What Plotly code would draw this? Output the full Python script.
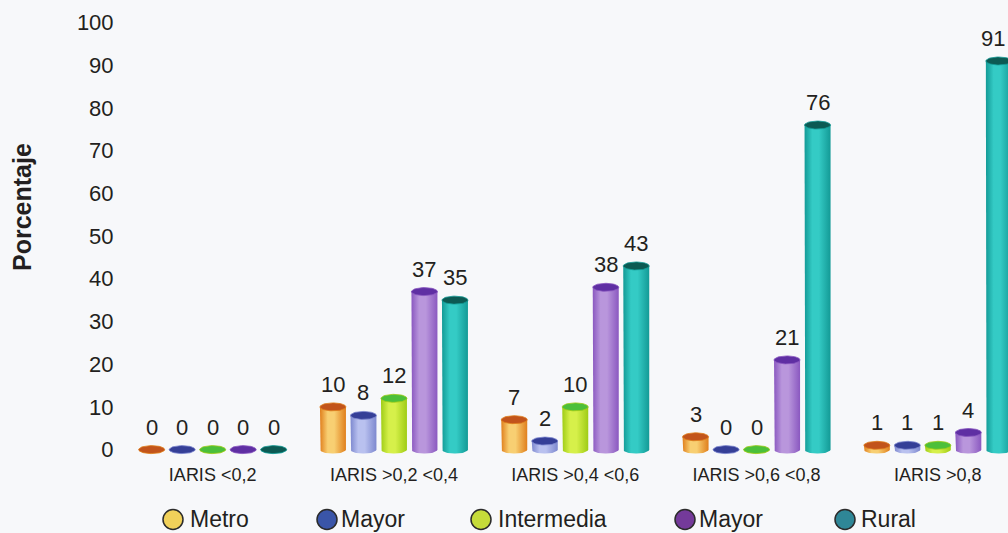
import numpy as np
import plotly.graph_objects as go

# ---- data -------------------------------------------------------------
categories = ["IARIS <0,2", "IARIS >0,2 <0,4", "IARIS >0,4 <0,6",
              "IARIS >0,6 <0,8", "IARIS >0,8"]
series_names = ["Metro", "Mayor", "Intermedia", "Mayor", "Rural"]
metro = [0, 10, 7, 3, 1]
mayor = [0, 8, 2, 0, 1]
intermedia = [0, 12, 10, 0, 1]
mayor_b = [0, 37, 38, 21, 4]
rural = [0, 35, 43, 76, 91]
y_ticks = [0, 10, 20, 30, 40, 50, 60, 70, 80, 90, 100]
y_title = "Porcentaje"

series_values = [metro, mayor, intermedia, mayor_b, rural]

# ---- styling ----------------------------------------------------------
# (edge, highlight, cap, legend swatch) for each series
palette = [
    ("#e07f1c", "#f8cf72", "#c2541b", "#f1d15a"),
    ("#7d88cf", "#b9c1ef", "#353f97", "#3a55a8"),
    ("#9fcc16", "#d6f04a", "#4cbf3a", "#c6dc3a"),
    ("#8a58c0", "#b996dc", "#5f2fa3", "#743a9a"),
    ("#139a96", "#34cbc5", "#0c5a53", "#2f8797"),
]
FONT = "Liberation Sans, Arial, sans-serif"
TEXT = "#231f20"
BG = "#f7f8fa"
LABEL_SIZE = 22

W, H = 1008, 533
M_L, M_R, M_T, M_B = 122, 0, 14, 77
X_RANGE = [-0.5, 4.387]
Y_RANGE = [-1.5, 102]

px_per_x = (W - M_L - M_R) / (X_RANGE[1] - X_RANGE[0])
px_per_y = (H - M_T - M_B) / (Y_RANGE[1] - Y_RANGE[0])

step = 30.5 / px_per_x      # distance between neighbouring cylinders
half_w = 13.0 / px_per_x    # cylinder radius (x units)
ry = 4.0 / px_per_y         # half height of the elliptical ends (y units)

t = np.linspace(0, np.pi, 40)
tt = np.linspace(0, 2 * np.pi, 60)
fig = go.Figure()
annotations = []

for k, (vals, cols) in enumerate(zip(series_values, palette)):
    edge, light, cap, _ = cols
    for i, v in enumerate(vals):
        xc = i + (k - 2) * step
        # body: straight sides with a rounded (elliptical) bottom
        bx = np.concatenate([[xc - half_w], xc - half_w * np.cos(t), [xc + half_w, xc - half_w]])
        by = np.concatenate([[v], -ry * np.sin(t), [v, v]])
        fig.add_trace(go.Scatter(
            x=bx, y=by, mode="lines", fill="toself",
            line=dict(width=0, color=edge),
            fillgradient=dict(type="horizontal",
                              colorscale=[[0, edge], [0.3, light], [0.55, light], [1, edge]]),
            hoverinfo="skip", showlegend=False))
        # top cap: full ellipse
        fig.add_trace(go.Scatter(
            x=xc + half_w * np.cos(tt), y=v + ry * np.sin(tt),
            mode="lines", fill="toself",
            line=dict(width=0.8, color=edge),
            fillcolor=cap, hoverinfo="skip", showlegend=False))
        # keep value labels inside the page at the right edge
        label = str(v)
        centre_px = M_L + (xc - X_RANGE[0]) * px_per_x
        half_text = len(label) * 0.556 * LABEL_SIZE / 2 + 2
        xshift = min(0.0, (W - 1) - (centre_px + half_text))
        annotations.append(dict(
            x=xc, y=v, xref="x", yref="y", text=label, showarrow=False,
            yanchor="bottom", yshift=8, xshift=xshift,
            font=dict(family=FONT, size=LABEL_SIZE, color=TEXT)))


def paper_x(px):
    return (px - M_L) / (W - M_L - M_R)


def paper_y(py):
    return (H - M_B - py) / (H - M_T - M_B)


# axis title
annotations.append(dict(
    x=paper_x(22), y=paper_y(207), xref="paper", yref="paper",
    text="<b>%s</b>" % y_title, textangle=-90, showarrow=False,
    xanchor="center", yanchor="middle",
    font=dict(family=FONT, size=25, color=TEXT)))

# legend row
legend_circle_px = [173, 327, 481, 685, 845]
legend_text_px = [188, 339, 496, 697, 859]
legend_y = 518.5
shapes = []
for name, col, cx, tx in zip(series_names, palette, legend_circle_px, legend_text_px):
    shapes.append(dict(
        type="circle", xref="paper", yref="paper",
        xsizemode="pixel", ysizemode="pixel",
        xanchor=paper_x(cx), yanchor=paper_y(legend_y + 1),
        x0=-10, x1=10, y0=-10, y1=10,
        fillcolor=col[3], line=dict(color="#2b2b2b", width=1.5)))
    annotations.append(dict(
        x=paper_x(tx), y=paper_y(legend_y), xref="paper", yref="paper",
        text=name, showarrow=False, xanchor="left", yanchor="middle",
        font=dict(family=FONT, size=23, color=TEXT)))

fig.update_layout(
    width=W, height=H,
    margin=dict(l=M_L, r=M_R, t=M_T, b=M_B, pad=0),
    paper_bgcolor=BG, plot_bgcolor=BG,
    showlegend=False,
    annotations=annotations,
    shapes=shapes,
    xaxis=dict(range=X_RANGE, tickvals=list(range(len(categories))),
               ticktext=categories, showgrid=False, zeroline=False,
               showline=False, ticks="outside", ticklen=2,
               tickcolor="rgba(0,0,0,0)",
               tickfont=dict(family=FONT, size=18, color=TEXT)),
    yaxis=dict(range=Y_RANGE, tickvals=y_ticks, showgrid=False,
               zeroline=False, showline=False, ticks="outside", ticklen=3,
               tickcolor="rgba(0,0,0,0)",
               tickfont=dict(family=FONT, size=22, color=TEXT)),
)

fig.write_html("out.html")
